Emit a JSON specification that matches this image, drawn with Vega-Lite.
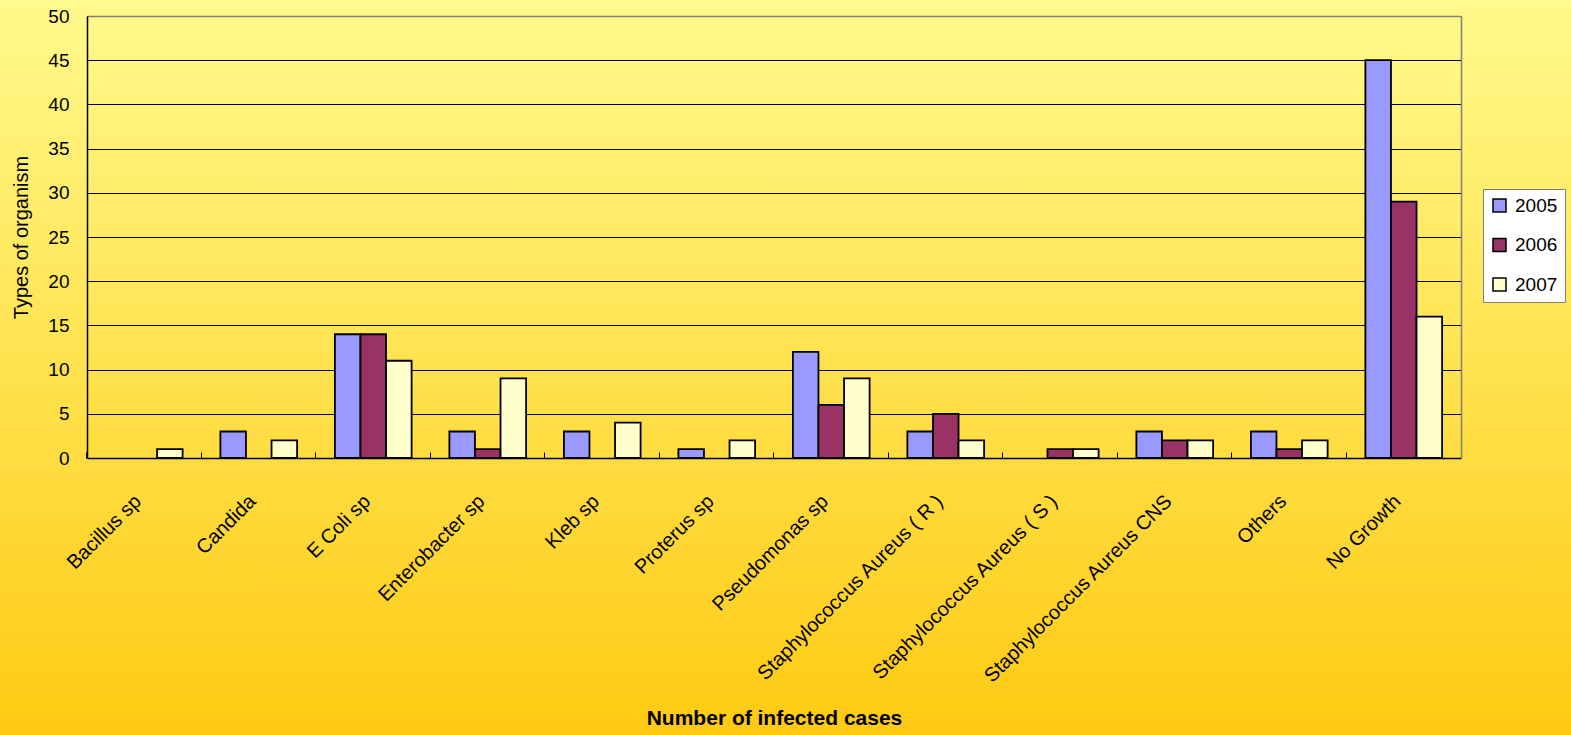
{
  "$schema": "https://vega.github.io/schema/vega-lite/v6.json",
  "width": 1571,
  "height": 735,
  "autosize": {"type": "none"},
  "padding": 0,
  "background": "#FFE050",
  "config": {
    "font": "Liberation Sans",
    "view": {
      "stroke": null,
      "fill": {"gradient": "linear", "x1": 0, "y1": 0, "x2": 0, "y2": 1, "stops": [{"offset": 0, "color": "#FFFA8C"}, {"offset": 1, "color": "#FFCA12"}]}
    }
  },
  "data": {
    "values": [
      {"organism": "Bacillus sp", "year": "2005", "value": 0},
      {"organism": "Bacillus sp", "year": "2006", "value": 0},
      {"organism": "Bacillus sp", "year": "2007", "value": 1},
      {"organism": "Candida", "year": "2005", "value": 3},
      {"organism": "Candida", "year": "2006", "value": 0},
      {"organism": "Candida", "year": "2007", "value": 2},
      {"organism": "E Coli sp", "year": "2005", "value": 14},
      {"organism": "E Coli sp", "year": "2006", "value": 14},
      {"organism": "E Coli sp", "year": "2007", "value": 11},
      {"organism": "Enterobacter sp", "year": "2005", "value": 3},
      {"organism": "Enterobacter sp", "year": "2006", "value": 1},
      {"organism": "Enterobacter sp", "year": "2007", "value": 9},
      {"organism": "Kleb sp", "year": "2005", "value": 3},
      {"organism": "Kleb sp", "year": "2006", "value": 0},
      {"organism": "Kleb sp", "year": "2007", "value": 4},
      {"organism": "Proterus sp", "year": "2005", "value": 1},
      {"organism": "Proterus sp", "year": "2006", "value": 0},
      {"organism": "Proterus sp", "year": "2007", "value": 2},
      {"organism": "Pseudomonas sp", "year": "2005", "value": 12},
      {"organism": "Pseudomonas sp", "year": "2006", "value": 6},
      {"organism": "Pseudomonas sp", "year": "2007", "value": 9},
      {"organism": "Staphylococcus Aureus ( R )", "year": "2005", "value": 3},
      {"organism": "Staphylococcus Aureus ( R )", "year": "2006", "value": 5},
      {"organism": "Staphylococcus Aureus ( R )", "year": "2007", "value": 2},
      {"organism": "Staphylococcus Aureus ( S )", "year": "2005", "value": 0},
      {"organism": "Staphylococcus Aureus ( S )", "year": "2006", "value": 1},
      {"organism": "Staphylococcus Aureus ( S )", "year": "2007", "value": 1},
      {"organism": "Staphylococcus Aureus CNS", "year": "2005", "value": 3},
      {"organism": "Staphylococcus Aureus CNS", "year": "2006", "value": 2},
      {"organism": "Staphylococcus Aureus CNS", "year": "2007", "value": 2},
      {"organism": "Others", "year": "2005", "value": 3},
      {"organism": "Others", "year": "2006", "value": 1},
      {"organism": "Others", "year": "2007", "value": 2},
      {"organism": "No Growth", "year": "2005", "value": 45},
      {"organism": "No Growth", "year": "2006", "value": 29},
      {"organism": "No Growth", "year": "2007", "value": 16}
    ]
  },
  "transform": [{"filter": "datum.value > 0"}],
  "layer": [
    {
      "mark": {"type": "bar", "stroke": "black", "strokeWidth": 1.8, "opacity": 1},
      "encoding": {
        "x": {
          "field": "organism", "type": "nominal", "sort": null,
          "scale": {"range": [87, 1461], "paddingInner": 0.33, "paddingOuter": 0.165},
          "axis": {
            "orient": "bottom", "offset": -277,
            "domainColor": "black", "domainWidth": 1.5,
            "bandPosition": -0.2463, "ticks": true, "tickSize": -6, "tickColor": "black", "tickWidth": 1,
            "labelOffset": -6, "labelAngle": -45, "labelAlign": "right", "labelBaseline": "middle",
            "labelPadding": 46, "labelFontSize": 20, "labelColor": "black",
            "labelOverlap": false, "labelFlush": false, "labelBound": false, "labelLimit": 0,
            "grid": false,
            "title": "Number of infected cases", "titleFontSize": 21, "titleFontWeight": "bold",
            "titleColor": "black", "titleY": 260, "titleBaseline": "middle"
          }
        },
        "xOffset": {"field": "year", "type": "nominal", "scale": {"domain": ["2005", "2006", "2007"], "paddingInner": 0, "paddingOuter": 0}},
        "y": {
          "field": "value", "type": "quantitative",
          "scale": {"domain": [0, 50], "range": [458, 16], "nice": false, "zero": true},
          "axis": {
            "orient": "left", "offset": -87,
            "values": [0, 5, 10, 15, 20, 25, 30, 35, 40, 45, 50],
            "domainColor": "black", "domainWidth": 1.5,
            "ticks": false, "labelPadding": 18, "labelFontSize": 19, "labelColor": "black",
            "grid": true, "gridColor": "black", "gridWidth": 1, "gridOpacity": 1,
            "title": "Types of organism", "titleFontSize": 20, "titleFontWeight": "normal",
            "titleColor": "black", "titleX": -65.5, "titleAngle": -90, "titleAlign": "center", "titleBaseline": "middle"
          }
        },
        "color": {
          "field": "year", "type": "nominal",
          "scale": {"domain": ["2005", "2006", "2007"], "range": ["#9999FF", "#993366", "#FFFFCC"]},
          "legend": {
            "orient": "none", "legendX": 1483, "legendY": 189,
            "title": null, "fillColor": "white", "strokeColor": "#808080", "padding": 7,
            "symbolType": "square", "symbolSize": 169, "symbolStrokeColor": "black", "symbolStrokeWidth": 1.5,
            "symbolOpacity": 1, "labelFontSize": 19, "labelColor": "black", "labelOffset": 6, "rowPadding": 19.5
          }
        }
      }
    },
    {
      "mark": {"type": "bar", "opacity": 0},
      "encoding": {
        "x": {
          "field": "organism", "type": "nominal", "sort": null,
          "axis": {"orient": "top", "offset": -16, "domainColor": "#808080", "domainWidth": 1.5, "ticks": false, "labels": false, "title": null, "grid": false}
        },
        "xOffset": {"field": "year", "type": "nominal"},
        "y": {
          "field": "value", "type": "quantitative",
          "axis": {"orient": "right", "offset": -110, "domainColor": "#808080", "domainWidth": 1.5, "ticks": false, "labels": false, "title": null, "grid": false}
        }
      }
    }
  ],
  "resolve": {"axis": {"x": "independent", "y": "independent"}}
}
